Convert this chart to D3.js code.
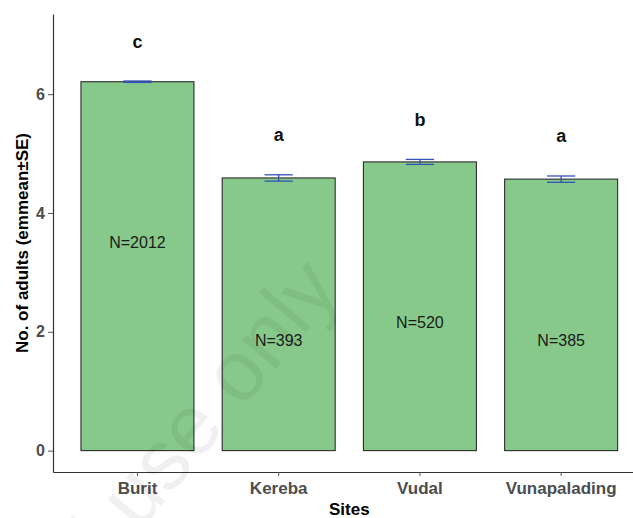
<!DOCTYPE html>
<html>
<head>
<meta charset="utf-8">
<script src="https://cdn.jsdelivr.net/npm/d3@7"></script>
<style>
  html, body { margin: 0; padding: 0; background: #fff; }
  svg { display: block; font-family: "Liberation Sans", Arial, sans-serif; }
</style>
</head>
<body>
<svg id="chart" width="633" height="518"></svg>
<script>
// Estimated marginal mean number of adults per site (±SE)
const sites = ["Burit", "Kereba", "Vudal", "Vunapalading"];
const emmean = [6.21, 4.59, 4.86, 4.57];
const se = [0.012, 0.053, 0.042, 0.053];
const groupLetters = ["c", "a", "b", "a"];
const sampleSizes = [2012, 393, 520, 385];
const sampleLabelAt = [3.5, 1.86, 2.15, 1.85];   // height (in y units) of the N= labels
const yTicks = [0, 2, 4, 6];

const rows = sites.map((s, i) => ({
  site: s, mean: emmean[i], se: se[i], letter: groupLetters[i],
  n: sampleSizes[i], labelAt: sampleLabelAt[i]
}));

const svg = d3.select("#chart");
const plotLeft = 53, plotBottom = 472, plotTop = 14, plotRight = 645.6;

const x = d3.scaleBand().domain(sites).range([plotLeft, plotRight])
  .paddingInner(0.2).paddingOuter(0.198);
const y = d3.scaleLinear().domain([-0.36, 7.35]).range([plotBottom, plotTop]);

// bars
svg.append("g").selectAll("rect").data(rows).join("rect")
  .attr("x", d => x(d.site))
  .attr("y", d => y(d.mean))
  .attr("width", x.bandwidth())
  .attr("height", d => y(0) - y(d.mean))
  .attr("fill", "#87c98a")
  .attr("stroke", "#2b2b2b")
  .attr("stroke-width", 1.1);

// error bars
const eb = svg.append("g").attr("stroke", "#3352b8").attr("stroke-width", 1.3).attr("fill", "none");
const capW = x.bandwidth() * 0.25;
rows.forEach(d => {
  const cx = x(d.site) + x.bandwidth() / 2;
  eb.append("line").attr("x1", cx).attr("x2", cx).attr("y1", y(d.mean - d.se)).attr("y2", y(d.mean + d.se));
  eb.append("line").attr("x1", cx - capW / 2).attr("x2", cx + capW / 2).attr("y1", y(d.mean + d.se)).attr("y2", y(d.mean + d.se));
  eb.append("line").attr("x1", cx - capW / 2).attr("x2", cx + capW / 2).attr("y1", y(d.mean - d.se)).attr("y2", y(d.mean - d.se));
});

// significance letters
svg.append("g").selectAll("text").data(rows).join("text")
  .attr("x", d => x(d.site) + x.bandwidth() / 2)
  .attr("y", d => y(d.mean + d.se) - 33.5)
  .attr("text-anchor", "middle")
  .attr("font-size", 18).attr("font-weight", "bold").attr("fill", "#111")
  .text(d => d.letter);

// sample sizes
svg.append("g").selectAll("text").data(rows).join("text")
  .attr("x", d => x(d.site) + x.bandwidth() / 2)
  .attr("y", d => y(d.labelAt))
  .attr("dy", "0.35em")
  .attr("text-anchor", "middle")
  .attr("font-size", 16).attr("fill", "#1a1a1a")
  .text(d => "N=" + d.n);

// axes
const yAxis = svg.append("g").attr("transform", `translate(${plotLeft},0)`)
  .call(d3.axisLeft(y).tickValues(yTicks).tickSize(5).tickSizeOuter(0).tickPadding(3));
const xAxis = svg.append("g").attr("transform", `translate(0,${plotBottom})`)
  .call(d3.axisBottom(x).tickSize(4).tickSizeOuter(0).tickPadding(6));

[yAxis, xAxis].forEach(g => {
  g.select(".domain").attr("stroke", "#333").attr("stroke-width", 1.2);
  g.selectAll(".tick line").attr("stroke", "#555");
  g.selectAll(".tick text").attr("fill", "#4d4d4d").attr("font-weight", "bold")
    .attr("font-family", "'Liberation Sans', Arial, sans-serif").attr("font-size", 17);
});
yAxis.selectAll(".tick text").attr("font-size", 16);

// axis titles
svg.append("text")
  .attr("x", (plotLeft + plotRight) / 2).attr("y", 515)
  .attr("text-anchor", "middle").attr("font-size", 17).attr("font-weight", "bold").attr("fill", "#000")
  .text("Sites");
svg.append("text")
  .attr("transform", `translate(28,${(plotTop + plotBottom) / 2}) rotate(-90)`)
  .attr("text-anchor", "middle").attr("font-size", 17).attr("font-weight", "bold").attr("fill", "#000")
  .text("No. of adults (emmean±SE)");

// faint diagonal overlay
svg.append("text")
  .attr("transform", "translate(342,290) rotate(-50)")
  .attr("text-anchor", "end").attr("font-size", 85).attr("fill", "#000").attr("fill-opacity", 0.06)
  .text("For personal use only");
</script>
</body>
</html>
